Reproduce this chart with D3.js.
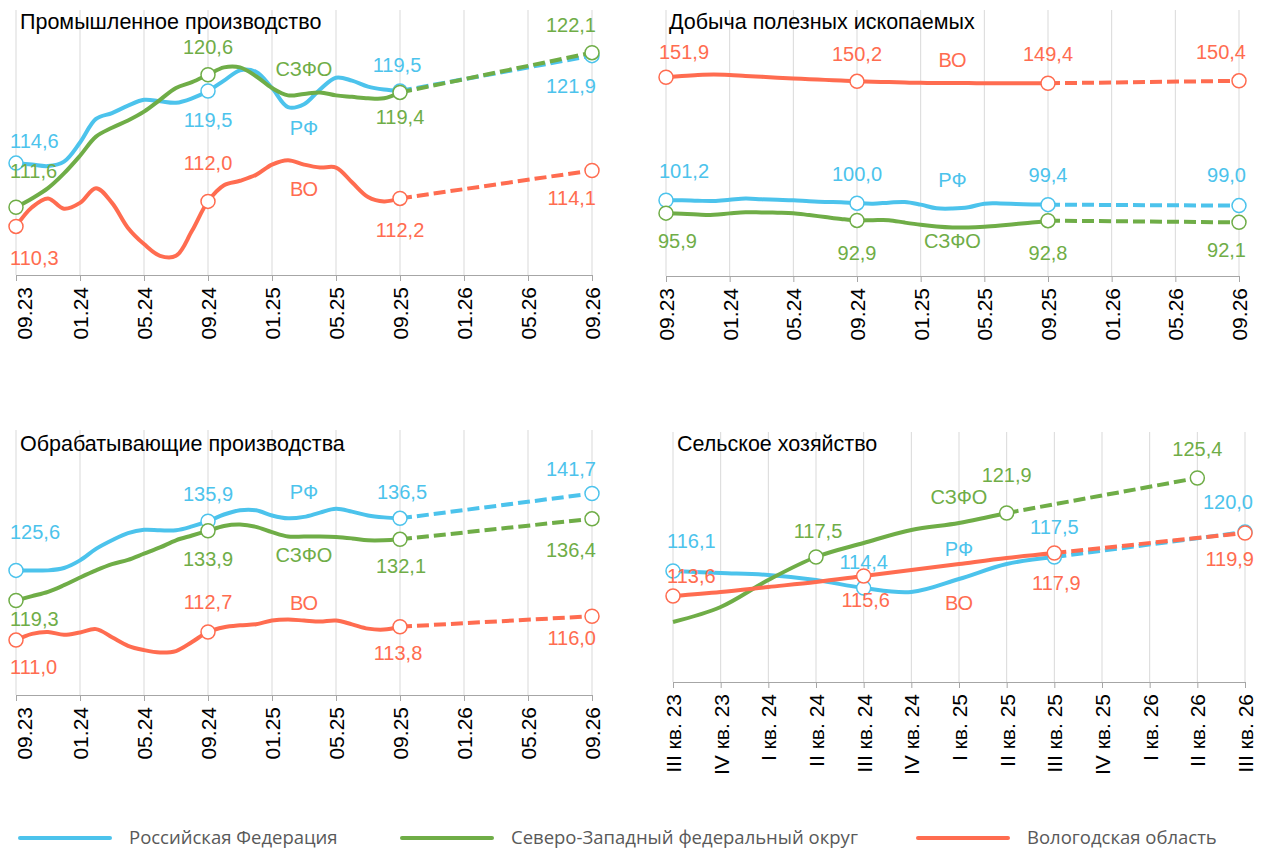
<!DOCTYPE html>
<html>
<head>
<meta charset="utf-8">
<script src="https://cdn.jsdelivr.net/npm/d3@7"></script>
<style>
  body { margin: 0; background: #fff; }
  svg { font-family: "Liberation Sans", Arial, sans-serif; }
  .grid line { stroke: #d9d9d9; stroke-width: 1; }
  .axis path, .axis line { stroke: #a6a6a6; }
  .axis text { font-size: 21px; fill: #000; font-family: "Liberation Sans", Arial, sans-serif; }
  .title { font-size: 21.5px; fill: #000; }
  .label { font-size: 20px; }
  .legend text { font-family: "Open Sans", sans-serif; font-size: 18.5px; fill: #595959; }
</style>
</head>
<body>
<svg id="chart" width="1263" height="852"></svg>
<script>
var months = ["09.23","10.23","11.23","12.23","01.24","02.24","03.24","04.24","05.24","06.24",
  "07.24","08.24","09.24","10.24","11.24","12.24","01.25","02.25","03.25","04.25","05.25",
  "06.25","07.25","08.25","09.25","10.25","11.25","12.25","01.26","02.26","03.26","04.26",
  "05.26","06.26","07.26","08.26","09.26"];
var monthTicks = ["09.23","01.24","05.24","09.24","01.25","05.25","09.25","01.26","05.26","09.26"];
var quarters = ["III кв. 23","IV кв. 23","I кв. 24","II кв. 24","III кв. 24","IV кв. 24",
  "I кв. 25","II кв. 25","III кв. 25","IV кв. 25","I кв. 26","II кв. 26","III кв. 26"];

// Промышленное производство, 09.23–09.25 помесячно + прогноз на 09.26
var promRF   = [114.6,114.5,114.4,114.7,116.0,117.6,118.0,118.5,118.9,118.8,118.7,119.0,119.5,
                120.2,120.9,120.8,119.7,118.4,118.6,119.6,120.4,120.2,119.8,119.6,119.5];
var promSZFO = [111.6,112.2,112.9,113.9,115.1,116.4,117.0,117.5,118.1,118.9,119.7,120.1,120.6,
                121.1,121.1,120.5,119.7,119.2,119.3,119.4,119.2,119.1,119.0,119.0,119.4];
var promVO   = [110.3,111.6,112.2,111.5,111.9,112.9,111.9,110.2,109.1,108.3,108.3,110.0,112.0,
                113.1,113.4,113.8,114.5,114.8,114.5,114.3,114.3,113.3,112.3,112.0,112.2];
var promForecast = [121.9, 122.1, 114.1];

// Добыча полезных ископаемых
var dobRF   = [101.2,101.2,101.0,100.9,101.4,101.9,101.6,101.4,101.2,100.8,100.5,100.4,100.0,
               99.8,100.2,100.5,99.4,97.9,97.8,98.3,99.8,99.9,99.7,99.5,99.4];
var dobSZFO = [95.9,95.6,95.3,95.2,95.8,96.3,96.2,96.1,95.9,95.1,94.3,93.5,92.9,
               93.0,93.0,92.0,91.1,90.4,90.0,90.0,90.3,90.8,91.4,92.0,92.8];
var dobVO   = [151.9,152.4,152.8,153.0,152.8,152.4,152.1,151.7,151.4,151.1,150.8,150.5,150.2,
               150.0,149.9,149.7,149.6,149.5,149.5,149.5,149.4,149.4,149.4,149.4,149.4];
var dobForecast = [99.0, 92.1, 150.4];

// Обрабатывающие производства
var obrRF   = [125.6,125.6,125.6,126.1,127.7,130.1,131.9,133.4,134.1,134.0,134.0,134.8,135.9,
               137.3,138.2,138.2,137.1,136.5,136.8,137.7,138.5,137.9,137.1,136.7,136.5];
var obrSZFO = [119.3,120.2,121.1,122.5,124.1,125.6,126.9,127.8,129.1,130.4,131.9,132.9,133.9,
               134.9,135.2,134.7,133.6,132.7,132.7,132.7,132.6,132.3,131.9,131.9,132.1];
var obrVO   = [111.0,112.3,112.7,112.1,112.6,113.3,111.6,109.8,108.9,108.4,108.7,110.6,112.7,
               113.7,114.1,114.3,115.1,115.3,115.1,114.9,115.1,114.3,113.4,113.2,113.8];
var obrForecast = [141.7, 136.4, 116.0];

// Сельское хозяйство, поквартально
var sxRF   = [116.1,115.9,115.7,115.2,114.4,114.0,115.3,116.8,117.5];
var sxSZFO = [111.0,112.5,115.2,117.5,118.9,120.2,120.9,121.9];
var sxVO   = [113.6,114.0,114.5,115.0,115.6,116.2,116.8,117.4,117.9];
var sxForecast = [120.0, 125.4, 119.9];

var seriesNames = ["Российская Федерация", "Северо-Западный федеральный округ", "Вологодская область"];
var shortNames = ["РФ", "СЗФО", "ВО"];
var colors = ["#4cc3ec", "#6fad47", "#ff6c50"];

var fmt = function(v) { return d3.format(".1f")(v).replace(".", ","); };
var svg = d3.select("#chart");

function drawPanel(p) {
  var g = svg.append("g");
  var x = d3.scalePoint().domain(p.cats).range(p.xRange);
  var y = d3.scaleLinear().domain(p.yDomain).range(p.yRange);
  var bottom = p.yRange[0];

  g.append("g").attr("class", "grid").selectAll("line")
      .data(p.ticks)
    .enter().append("line")
      .attr("x1", function(d) { return x(d); })
      .attr("x2", function(d) { return x(d); })
      .attr("y1", p.gridTop)
      .attr("y2", bottom);

  var ax = g.append("g")
      .attr("class", "axis")
      .attr("transform", "translate(0," + bottom + ")")
      .call(d3.axisBottom(x).tickValues(p.ticks).tickSize(6).tickSizeOuter(0));
  ax.selectAll("text")
      .attr("transform", "rotate(-90)")
      .attr("x", -12)
      .attr("y", function(d, i) { return i === 0 ? (p.firstShift || 0) : 0; })
      .attr("dy", "0.35em")
      .style("text-anchor", "end");

  g.append("text")
      .attr("class", "title")
      .attr("x", p.titleX)
      .attr("y", p.titleY)
      .text(p.title);

  var line = d3.line()
      .x(function(d) { return x(d.c); })
      .y(function(d) { return y(d.v); })
      .curve(d3.curveCatmullRom.alpha(0.5));

  function valueAt(s, c) {
    if (c === s.fcCat) return s.fcVal;
    return s.vals[p.cats.indexOf(c) - s.start];
  }

  p.series.forEach(function(s, k) {
    var pts = s.vals.map(function(v, i) { return {c: p.cats[s.start + i], v: v}; });
    var last = pts[pts.length - 1],
        fc = {c: s.fcCat, v: s.fcVal};

    g.append("path")
        .attr("d", line(pts))
        .attr("fill", "none")
        .attr("stroke", colors[k])
        .attr("stroke-width", 4);

    g.append("path")
        .attr("d", d3.line().x(function(d) { return x(d.c); }).y(function(d) { return y(d.v); })([last, fc]))
        .attr("fill", "none")
        .attr("stroke", colors[k])
        .attr("stroke-width", 4)
        .attr("stroke-dasharray", "12,5");

    g.selectAll(null)
        .data(s.marks.map(function(i) { return pts[i]; }).concat([fc]))
      .enter().append("circle")
        .attr("cx", function(d) { return x(d.c); })
        .attr("cy", function(d) { return y(d.v); })
        .attr("r", 7)
        .attr("fill", "#fff")
        .attr("stroke", colors[k])
        .attr("stroke-width", 1.5);
  });

  p.labels.forEach(function(l) {
    var s = p.series[l[0]], v = valueAt(s, l[1]);
    g.append("text")
        .attr("class", "label")
        .attr("x", x(l[1]) + l[2])
        .attr("y", y(v) + l[3])
        .attr("dy", "0.35em")
        .attr("text-anchor", l[4] || "middle")
        .attr("fill", colors[l[0]])
        .text(fmt(v));
  });

  p.names.forEach(function(n) {
    var s = p.series[n[0]], v = valueAt(s, n[1]);
    g.append("text")
        .attr("class", "label")
        .attr("x", x(n[1]))
        .attr("y", y(v) + n[2])
        .attr("dy", "0.35em")
        .attr("text-anchor", "middle")
        .attr("fill", colors[n[0]])
        .text(shortNames[n[0]]);
  });
}

function monthly(vals, fc) {
  return {vals: vals, start: 0, marks: [0, 12, 24], fcCat: "09.26", fcVal: fc};
}

drawPanel({
  title: "Промышленное производство", titleX: 20, titleY: 29,
  cats: months, ticks: monthTicks, xRange: [16, 592], firstShift: 8,
  yDomain: [107, 125], yRange: [275, 10], gridTop: 10,
  series: [monthly(promRF, promForecast[0]), monthly(promSZFO, promForecast[1]), monthly(promVO, promForecast[2])],
  labels: [
    [0, "09.23", -6, -22, "start"], [1, "09.23", -6, -36, "start"], [2, "09.23", -6, 32, "start"],
    [1, "09.24", 0, -28], [0, "09.24", 0, 29], [2, "09.24", 0, -38],
    [0, "09.25", -3, -26], [1, "09.25", 0, 25], [2, "09.25", 0, 32],
    [1, "09.26", 4, -28, "end"], [0, "09.26", 4, 30, "end"], [2, "09.26", 4, 28, "end"]
  ],
  names: [[1, "03.25", -25], [0, "03.25", 24], [2, "03.25", 24]]
});

drawPanel({
  title: "Добыча полезных ископаемых", titleX: 669, titleY: 29,
  cats: months, ticks: monthTicks, xRange: [666, 1239],
  yDomain: [70, 180], yRange: [276, 9], gridTop: 10,
  series: [monthly(dobRF, dobForecast[0]), monthly(dobSZFO, dobForecast[1]), monthly(dobVO, dobForecast[2])],
  labels: [
    [2, "09.23", -7, -25, "start"], [0, "09.23", -7, -29, "start"], [1, "09.23", -8, 28, "start"],
    [2, "09.24", 0, -27], [0, "09.24", 0, -29], [1, "09.24", 0, 33],
    [2, "09.25", 0, -29], [0, "09.25", 0, -30], [1, "09.25", 0, 32],
    [2, "09.26", 7, -29, "end"], [0, "09.26", 7, -31, "end"], [1, "09.26", 7, 28, "end"]
  ],
  names: [[2, "03.25", -23], [0, "03.25", -29], [1, "03.25", 14]]
});

drawPanel({
  title: "Обрабатывающие производства", titleX: 20, titleY: 451,
  cats: months, ticks: monthTicks, xRange: [16, 592], firstShift: 8,
  yDomain: [99.5, 155], yRange: [695, 430], gridTop: 430,
  series: [monthly(obrRF, obrForecast[0]), monthly(obrSZFO, obrForecast[1]), monthly(obrVO, obrForecast[2])],
  labels: [
    [0, "09.23", -6, -38, "start"], [1, "09.23", -6, 19, "start"], [2, "09.23", -6, 27, "start"],
    [0, "09.24", 0, -27], [1, "09.24", 0, 28], [2, "09.24", 0, -30],
    [0, "09.25", 2, -26], [1, "09.25", 1, 27], [2, "09.25", -2, 26],
    [0, "09.26", 4, -25, "end"], [1, "09.26", 4, 31, "end"], [2, "09.26", 4, 22, "end"]
  ],
  names: [[0, "03.25", -25], [1, "03.25", 19], [2, "03.25", -18]]
});

drawPanel({
  title: "Сельское хозяйство", titleX: 677, titleY: 451,
  cats: quarters, ticks: quarters, xRange: [673, 1245],
  yDomain: [105, 130], yRange: [682, 432], gridTop: 432,
  series: [
    {vals: sxRF, start: 0, marks: [0, 4, 8], fcCat: "III кв. 26", fcVal: sxForecast[0]},
    {vals: sxSZFO, start: 0, marks: [3, 7], fcCat: "II кв. 26", fcVal: sxForecast[1]},
    {vals: sxVO, start: 0, marks: [0, 4, 8], fcCat: "III кв. 26", fcVal: sxForecast[2]}
  ],
  labels: [
    [0, "III кв. 23", -6, -30, "start"], [2, "III кв. 23", -6, -20, "start"],
    [1, "II кв. 24", 2, -26], [0, "III кв. 24", 0, -26], [2, "III кв. 24", 2, 24],
    [1, "II кв. 25", 0, -38], [0, "III кв. 25", 0, -30], [2, "III кв. 25", 2, 30],
    [1, "II кв. 26", 0, -29], [0, "III кв. 26", 8, -30, "end"], [2, "III кв. 26", 9, 26, "end"]
  ],
  names: [[1, "I кв. 25", -26], [0, "I кв. 25", -30], [2, "I кв. 25", 39]]
});

var legendX = [20, 402, 918];
var legend = svg.append("g").attr("class", "legend");
seriesNames.forEach(function(name, k) {
  legend.append("line")
      .attr("x1", legendX[k]).attr("x2", legendX[k] + 90)
      .attr("y1", 838).attr("y2", 838)
      .attr("stroke", colors[k])
      .attr("stroke-width", 4)
      .attr("stroke-linecap", "round");
  legend.append("text")
      .attr("x", legendX[k] + 109)
      .attr("y", 838)
      .attr("dy", "0.35em")
      .text(name);
});
</script>
</body>
</html>
